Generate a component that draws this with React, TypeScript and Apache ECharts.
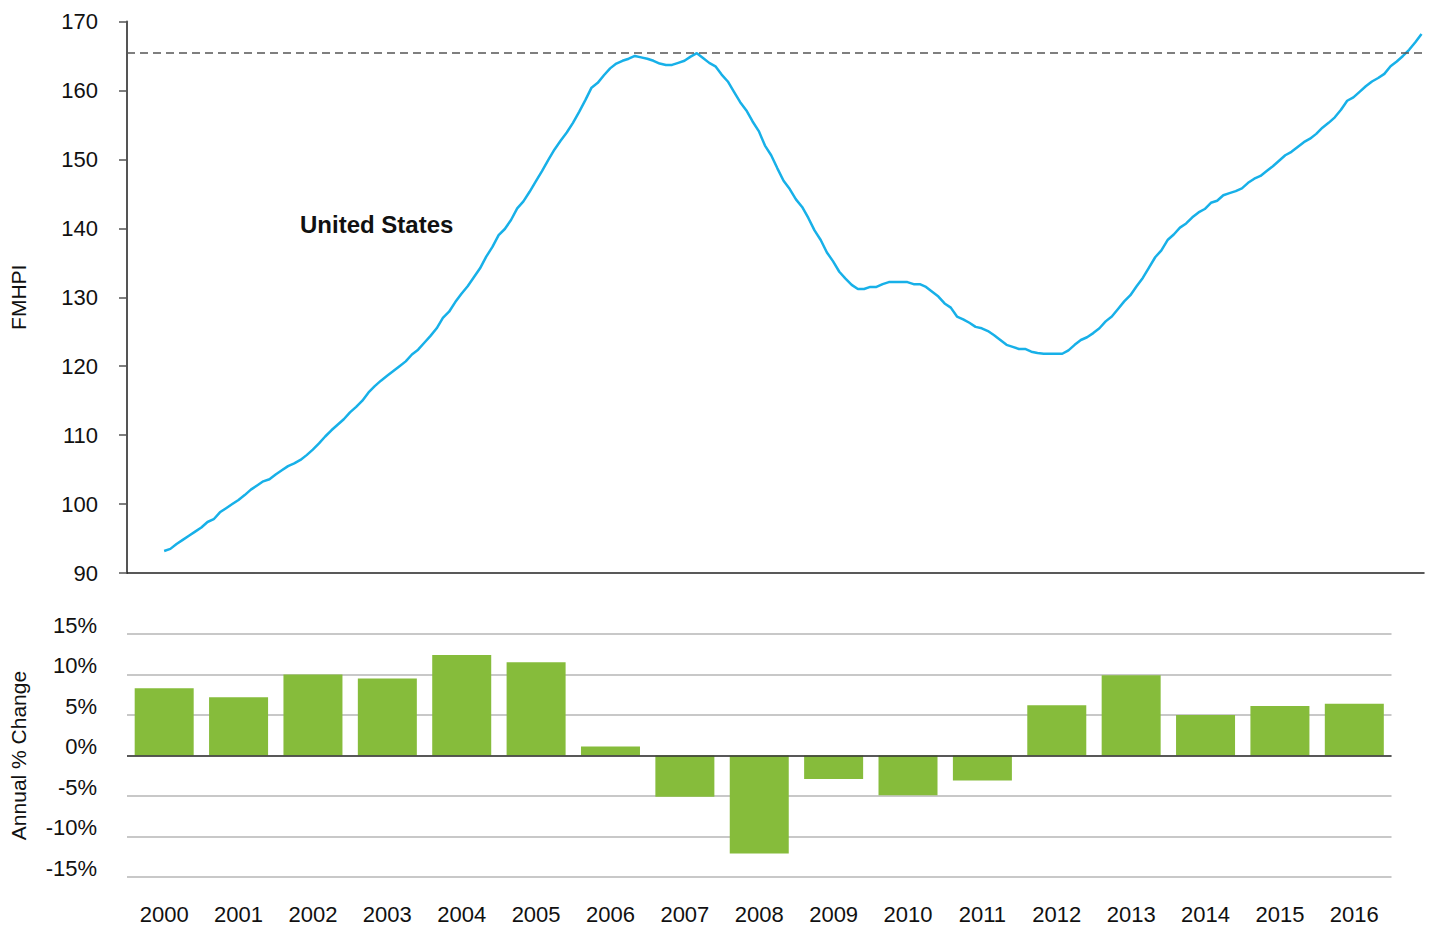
import React, { useEffect, useRef } from "react";
import * as echarts from "echarts";

// Annual categories for the lower panel
const years = [
  "2000", "2001", "2002", "2003", "2004", "2005", "2006", "2007", "2008",
  "2009", "2010", "2011", "2012", "2013", "2014", "2015", "2016",
];

// Annual % change (Dec/Dec)
const annualChange = [
  8.3, 7.2, 10.0, 9.5, 12.4, 11.5, 1.1, -5.1, -12.1,
  -2.9, -4.9, -3.1, 6.2, 9.9, 5.0, 6.1, 6.4,
];

// Monthly FMHPI, Jan 2000 .. Dec 2016 (one row per year)
const fmhpiMonthly = [
  93.2, 93.5, 94.2, 94.8, 95.4, 96.0, 96.6, 97.4, 97.8, 98.8, 99.4, 100.0,
  100.6, 101.3, 102.1, 102.7, 103.3, 103.6, 104.3, 104.9, 105.5, 105.9, 106.4, 107.1,
  107.9, 108.8, 109.8, 110.7, 111.5, 112.3, 113.3, 114.1, 115.0, 116.2, 117.1, 117.9,
  118.6, 119.3, 120.0, 120.7, 121.7, 122.4, 123.4, 124.4, 125.5, 127.0, 127.9, 129.3,
  130.5, 131.6, 132.9, 134.2, 135.9, 137.3, 139.0, 139.9, 141.2, 142.9, 143.9, 145.3,
  146.8, 148.3, 149.9, 151.4, 152.7, 153.9, 155.3, 156.9, 158.6, 160.4, 161.1, 162.2,
  163.2, 163.9, 164.3, 164.6, 165.0, 164.8, 164.6, 164.3, 163.9, 163.7, 163.7, 164.0,
  164.3, 164.9, 165.4, 164.7, 164.0, 163.5, 162.3, 161.3, 159.8, 158.3, 157.1, 155.5,
  154.1, 152.0, 150.6, 148.7, 146.9, 145.7, 144.2, 143.1, 141.5, 139.7, 138.3, 136.5,
  135.2, 133.7, 132.7, 131.8, 131.2, 131.2, 131.5, 131.5, 131.9, 132.2, 132.2, 132.2,
  132.2, 131.9, 131.9, 131.5, 130.8, 130.1, 129.1, 128.5, 127.2, 126.8, 126.3, 125.7,
  125.5, 125.1, 124.5, 123.8, 123.1, 122.8, 122.5, 122.5, 122.1, 121.9, 121.8, 121.8,
  121.8, 121.8, 122.3, 123.1, 123.8, 124.2, 124.8, 125.5, 126.5, 127.2, 128.3, 129.4,
  130.3, 131.6, 132.8, 134.3, 135.8, 136.8, 138.3, 139.1, 140.1, 140.7, 141.6, 142.3,
  142.8, 143.7, 144.0, 144.8, 145.1, 145.4, 145.8, 146.6, 147.2, 147.6, 148.3, 149.0,
  149.8, 150.6, 151.1, 151.8, 152.5, 153.0, 153.7, 154.6, 155.3, 156.1, 157.2, 158.5,
  159.0, 159.8, 160.6, 161.3, 161.8, 162.4, 163.5, 164.2, 165.0, 165.9, 167.0, 168.2,
];

const startYear = 2000;
const previousPeak = 165.4;
const regionLabel = "United States";
const topAxisName = "FMHPI";
const bottomAxisName = "Annual % Change";

export default function App() {
  const ref = useRef<HTMLDivElement>(null);

  useEffect(() => {
    document.body.style.margin = "0";
    document.body.style.overflow = "hidden";
    const chart = echarts.init(ref.current!, null, { renderer: "svg" });
    const font = "'Liberation Sans', Arial, Helvetica, sans-serif";
    const lineData = fmhpiMonthly.map((v, i) => [startYear + i / 12, v]);

    chart.setOption({
      animation: false,
      backgroundColor: "#ffffff",
      textStyle: { fontFamily: font },
      grid: [
        { left: 126, right: 5, top: 21.5, height: 551.5 },
        { left: 126, right: 37.5, top: 634, height: 243 },
      ],
      xAxis: [
        {
          type: "value",
          gridIndex: 0,
          min: 1999.5,
          max: 2016.95,
          axisLine: { show: true, onZero: false, lineStyle: { color: "#222", width: 1.5 } },
          axisTick: { show: false },
          axisLabel: { show: false },
          splitLine: { show: false },
        },
        {
          type: "category",
          gridIndex: 1,
          data: years,
          axisLine: { show: false, onZero: false },
          axisTick: { show: false },
          axisLabel: { color: "#111", fontSize: 22, margin: 26, fontFamily: font },
          splitLine: { show: false },
        },
      ],
      yAxis: [
        {
          type: "value",
          gridIndex: 0,
          min: 90,
          max: 170,
          interval: 10,
          name: topAxisName,
          nameLocation: "middle",
          nameGap: 98,
          nameTextStyle: { fontSize: 21, color: "#111", fontFamily: font },
          axisLine: { show: true, lineStyle: { color: "#555", width: 2 } },
          axisTick: { show: true, length: 8, lineStyle: { color: "#555", width: 1.5 } },
          axisLabel: { fontSize: 22, color: "#111", margin: 29, fontFamily: font },
          splitLine: { show: false },
        },
        {
          type: "value",
          gridIndex: 1,
          min: -15,
          max: 15,
          interval: 5,
          name: bottomAxisName,
          nameLocation: "middle",
          nameGap: 98,
          nameTextStyle: { fontSize: 21, color: "#111", fontFamily: font },
          axisLine: { show: false },
          axisTick: { show: false },
          axisLabel: {
            formatter: "{value}%",
            fontSize: 22,
            color: "#111",
            margin: 30,
            verticalAlign: "bottom",
            lineHeight: 18,
            fontFamily: font,
          },
          splitLine: { show: true, lineStyle: { color: "#c8c8c8", width: 2 } },
        },
      ],
      graphic: [
        {
          type: "text",
          left: 300,
          top: 212,
          style: {
            text: regionLabel,
            font: `bold 24px ${font}`,
            fill: "#111",
          },
        },
      ],
      series: [
        {
          type: "line",
          xAxisIndex: 0,
          yAxisIndex: 0,
          data: lineData,
          showSymbol: false,
          symbol: "none",
          lineStyle: { color: "#17b0e8", width: 2.5 },
          markLine: {
            silent: true,
            symbol: ["none", "none"],
            label: { show: false },
            lineStyle: { color: "#555", width: 1.5, type: [8, 5] },
            data: [{ yAxis: previousPeak }],
          },
        },
        {
          type: "bar",
          xAxisIndex: 1,
          yAxisIndex: 1,
          data: annualChange,
          barWidth: 59,
          itemStyle: { color: "#86bc3b" },
          markLine: {
            silent: true,
            symbol: ["none", "none"],
            label: { show: false },
            lineStyle: { color: "#333", width: 1.5, type: "solid" },
            data: [{ yAxis: 0 }],
          },
        },
      ],
    });

    return () => {
      chart.dispose();
    };
  }, []);

  return (
    <div
      ref={ref}
      style={{ position: "fixed", left: 0, top: 0, width: 1429, height: 927 }}
    />
  );
}
